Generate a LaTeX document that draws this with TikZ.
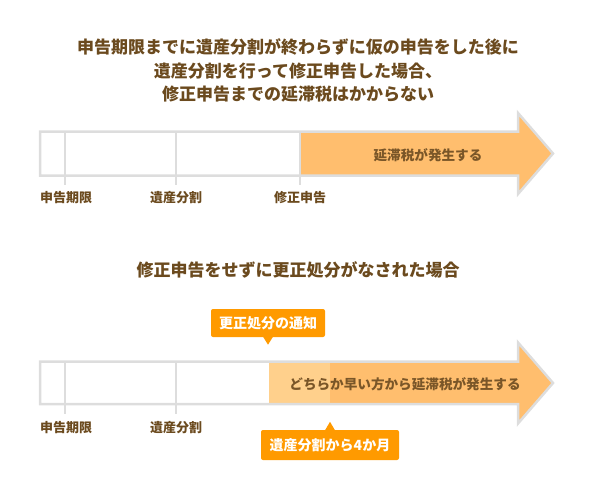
\documentclass[tikz,border=0pt]{standalone}
\usepackage{fontspec}
\setmainfont{Noto Sans CJK JP}
\usepackage{tikz}
\usetikzlibrary{positioning,calc}

\definecolor{txtbrown}{HTML}{6B4A1E}
\definecolor{barbrown}{HTML}{7A5628}
\definecolor{barline}{HTML}{DDDDDD}
\definecolor{lateorange}{HTML}{FFBE6E}
\definecolor{lightorange}{HTML}{FFD08C}
\definecolor{tagorange}{HTML}{FF9A00}

\tikzset{
  heading/.style={text=txtbrown,font=\bfseries\fontsize{17}{23.5}\selectfont,align=center,inner sep=0pt},
  datelbl/.style={text=txtbrown,font=\bfseries\fontsize{13}{15}\selectfont,inner sep=0pt},
  barlbl/.style={text=barbrown,font=\bfseries\fontsize{13.6}{16}\selectfont,inner sep=0pt},
  tagbox/.style={fill=tagorange,text=white,rounded corners=2pt,font=\bfseries\fontsize{14}{16}\selectfont,inner sep=0pt},
  tick/.style={barline,line width=2.5pt}
}

\begin{document}
\begin{tikzpicture}[x=1pt,y=-1pt]
  \useasboundingbox (0,0) rectangle (596,498);

  \node[heading] (title1) at (298,70.5){申告期限までに遺産分割が終わらずに仮の申告をした後に\\遺産分割を行って修正申告した場合、\\修正申告までの延滞税はかからない};

  \fill[lateorange](300,131.5)--(518,131.5)--(518,113)--(553,153.5)--(518,194)--(518,175.5)--(300,175.5)--cycle;
  \draw[barline,line width=2.5pt,line join=miter](40,131.5)--(518,131.5)--(518,113)--(553,153.5)--(518,194)--(518,175.5)--(40,175.5)--cycle;
  \draw[tick](65,131.5)--(65,185);
  \draw[tick](176,131.5)--(176,185);
  \draw[tick](300,131.5)--(300,185);
  \node[barlbl] (late1) at (428,155){延滞税が発生する};
  \node[datelbl] (due1) at (66,198){申告期限};
  \node[datelbl] (split1) at (176,198){遺産分割};
  \node[datelbl] (amend1) at (300,198){修正申告};

  \node[heading] (title2) at (298,270){修正申告をせずに更正処分がなされた場合};

  \fill[lightorange](269,361.5)--(330,361.5)--(330,404)--(269,404)--cycle;
  \fill[lateorange](330,361.5)--(518,361.5)--(518,342.5)--(553,383)--(518,423.5)--(518,404)--(330,404)--cycle;
  \draw[barline,line width=2.5pt,line join=miter](40,361.5)--(518,361.5)--(518,342.5)--(553,383)--(518,423.5)--(518,404)--(40,404)--cycle;
  \draw[tick](65,361.5)--(65,414);
  \draw[tick](176,361.5)--(176,414);
  \node[barlbl] (late2) at (405,384){どちらか早い方から延滞税が発生する};
  \node[datelbl] (due2) at (66,428){申告期限};
  \node[datelbl] (split2) at (176,428){遺産分割};

  \node[tagbox,minimum width=114pt,minimum height=28pt] (notice) at (268,323){更正処分の通知};
  \fill[tagorange]($(notice.south)+(-5,-0.5)$)--($(notice.south)+(5,-0.5)$)--($(notice.south)+(0,7.5)$)--cycle;
  \node[tagbox,minimum width=138pt,minimum height=30pt] (fourmonth) at (330,445){遺産分割から4か月};
  \fill[tagorange]($(fourmonth.north)+(-5,0.5)$)--($(fourmonth.north)+(5,0.5)$)--($(fourmonth.north)+(0,-8)$)--cycle;
\end{tikzpicture}
\end{document}
